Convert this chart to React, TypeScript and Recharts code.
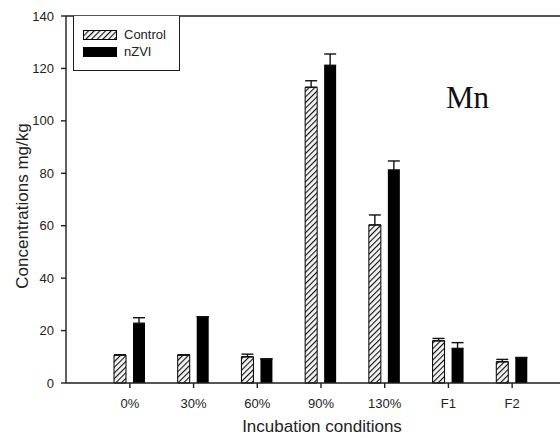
import React from "react";
import {
  BarChart,
  Bar,
  XAxis,
  YAxis,
  ErrorBar,
  Label,
  ReferenceLine,
} from "recharts";

const conditions = ["0%", "30%", "60%", "90%", "130%", "F1", "F2"];
const controlValues = [10.7, 10.7, 10.0, 112.8, 60.3, 16.1, 8.1];
const controlErrors = [0, 0, 1.0, 2.5, 3.8, 0.9, 0.9];
const nzviValues = [22.8, 25.3, 9.2, 121.2, 81.3, 13.2, 9.7];
const nzviErrors = [2.1, 0, 0, 4.3, 3.4, 2.2, 0];
const yTicks = [0, 20, 40, 60, 80, 100, 120, 140];

const AXIS = "#1e1e1e";
const SANS = "'Liberation Sans', Arial, sans-serif";

const data = conditions.map((name, i) => ({
  name,
  control: controlValues[i],
  controlErr: [0, controlErrors[i]],
  nzvi: nzviValues[i],
  nzviErr: [0, nzviErrors[i]],
}));

function HatchDefs({ id }: { id: string }) {
  return (
    <defs>
      <pattern
        id={id}
        patternUnits="userSpaceOnUse"
        width={4}
        height={4}
        patternTransform="rotate(45)"
      >
        <rect width={4} height={4} fill="#f4f4f4" />
        <line x1={0} y1={0} x2={0} y2={4} stroke="#111" strokeWidth={2.2} />
      </pattern>
    </defs>
  );
}

function YTitle() {
  return (
    <text
      x={22}
      y={206}
      transform="rotate(-90 22 206)"
      textAnchor="middle"
      dominantBaseline="central"
      fontFamily={SANS}
      fontSize={17}
      fill="#222"
    >
      Concentrations mg/kg
    </text>
  );
}

function XTitle() {
  return (
    <text
      x={322}
      y={432}
      textAnchor="middle"
      fontFamily={SANS}
      fontSize={17}
      fill="#222"
    >
      Incubation conditions
    </text>
  );
}

function LegendBox() {
  const rows = [
    { label: "Control", fill: "url(#hatch-legend)" },
    { label: "nZVI", fill: "#000" },
  ];
  return (
    <div
      style={{
        position: "absolute",
        left: 73,
        top: 16,
        width: 105,
        height: 54,
        border: `1.3px solid ${AXIS}`,
        borderTop: "none",
        background: "#fff",
      }}
    >
      {rows.map((r, i) => (
        <div
          key={r.label}
          style={{
            position: "absolute",
            left: 9,
            top: 14 + i * 17,
            display: "flex",
            alignItems: "center",
            gap: 7,
          }}
        >
          <svg width={34} height={10}>
            <HatchDefs id="hatch-legend" />
            <rect
              x={0.5}
              y={0.5}
              width={33}
              height={9}
              fill={r.fill}
              stroke="#000"
              strokeWidth={1}
            />
          </svg>
          <span
            style={{
              fontFamily: SANS,
              fontSize: 13,
              color: "#222",
              lineHeight: "10px",
            }}
          >
            {r.label}
          </span>
        </div>
      ))}
    </div>
  );
}

export default function App() {
  return (
    <div
      style={{
        position: "absolute",
        left: 0,
        top: 0,
        width: 560,
        height: 438,
        background: "#fff",
        overflow: "hidden",
      }}
    >
      <BarChart
        width={560}
        height={438}
        data={data}
        margin={{ top: 16, right: 0, bottom: 25, left: 0 }}
        barSize={12}
        barGap={7}
      >
        <HatchDefs id="hatch" />
        <XAxis
          dataKey="name"
          height={30}
          padding={{ left: 32, right: 16 }}
          tickSize={5}
          tickMargin={11}
          tick={{ fontFamily: SANS, fontSize: 13, fill: "#222" }}
          axisLine={{ stroke: AXIS, strokeWidth: 1.4 }}
          tickLine={{ stroke: AXIS, strokeWidth: 1.4 }}
        >
          <Label content={<XTitle />} />
        </XAxis>
        <YAxis
          width={66}
          domain={[0, 140]}
          ticks={yTicks}
          interval={0}
          tickSize={5}
          tickMargin={7}
          tick={{ fontFamily: SANS, fontSize: 13, fill: "#222" }}
          axisLine={{ stroke: AXIS, strokeWidth: 1.4 }}
          tickLine={{ stroke: AXIS, strokeWidth: 1.4 }}
        >
          <Label content={<YTitle />} />
        </YAxis>
        <ReferenceLine y={140} stroke={AXIS} strokeWidth={1.4} />
        <Bar
          dataKey="control"
          fill="url(#hatch)"
          stroke="#000"
          strokeWidth={1}
          isAnimationActive={false}
        >
          <ErrorBar
            dataKey="controlErr"
            width={6}
            stroke="#111"
            strokeWidth={1.4}
          />
        </Bar>
        <Bar dataKey="nzvi" fill="#000" isAnimationActive={false}>
          <ErrorBar
            dataKey="nzviErr"
            width={6}
            stroke="#111"
            strokeWidth={1.4}
          />
        </Bar>
      </BarChart>
      <LegendBox />
      <div
        style={{
          position: "absolute",
          left: 446,
          top: 80,
          fontFamily: "'Liberation Serif', 'Times New Roman', serif",
          fontSize: 31,
          lineHeight: "36px",
          color: "#111",
        }}
      >
        Mn
      </div>
    </div>
  );
}
